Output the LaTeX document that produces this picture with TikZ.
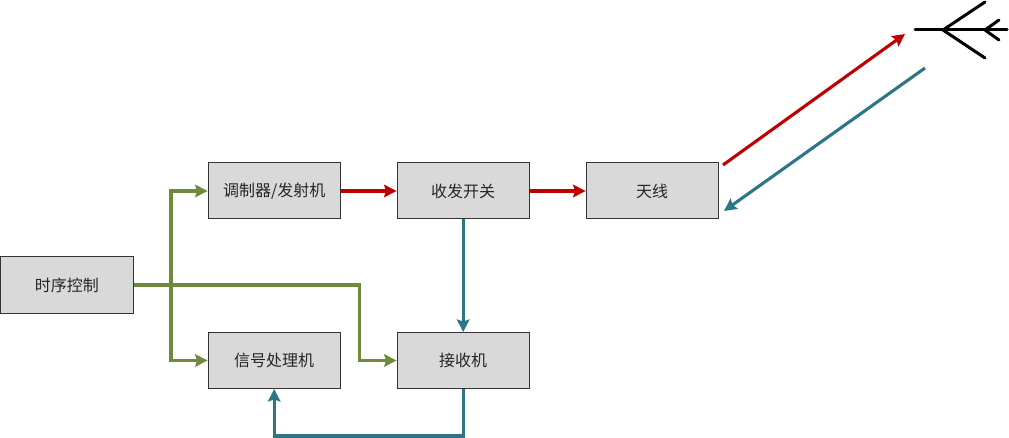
\documentclass[tikz,border=0pt]{standalone}
\usepackage{fontspec}
\setmainfont{Noto Sans CJK SC}
\usetikzlibrary{arrows.meta,calc}
\definecolor{boxfill}{HTML}{D9D9D9}
\definecolor{boxline}{HTML}{333333}
\definecolor{cgreen}{HTML}{6F8A3C}
\definecolor{cred}{HTML}{C00000}
\definecolor{cblue}{HTML}{2E7587}
\tikzset{
  blockbox/.style={draw=boxline,fill=boxfill,line width=1pt,minimum width=132.2pt,minimum height=56pt,inner sep=0pt,font=\fontsize{16pt}{18pt}\selectfont,text=black!85},
  conn/.style={line width=3.1pt,-{Stealth[length=12.5pt,width=12.5pt,inset=2pt]},line join=miter},
  gr/.style={conn,draw=cgreen},
  rd/.style={conn,draw=cred},
  bl/.style={conn,draw=cblue},
  ant/.style={line width=3pt,draw=black,line cap=round}
}
\begin{document}
\begin{tikzpicture}[x=1pt,y=-1pt]
\useasboundingbox (0,0) rectangle (1009,438);
\node[blockbox] (timing) at (66.9,285) {时序控制};
\node[blockbox] (mod) at (274.2,191) {调制器/发射机};
\node[blockbox] (sw) at (463.2,191) {收发开关};
\node[blockbox] (antbox) at (652.2,191) {天线};
\node[blockbox] (sig) at (274.2,360.5) {信号处理机};
\node[blockbox] (rx) at (463.2,360.5) {接收机};
% free ends
\coordinate (redS) at (723,165);
\coordinate (redE) at (905,34);
\coordinate (blueS) at (925,68);
\coordinate (blueE) at (724,211);
\coordinate (busT) at (171,285);
% green
\draw[gr] (timing.east) -- (359.5,285) |- (rx.west);
\draw[gr] (busT) |- (mod.west);
\draw[gr] (busT) |- (sig.west);
% red
\draw[rd] (mod.east) -- (sw.west);
\draw[rd] (sw.east) -- (antbox.west);
\draw[rd] (redS) -- (redE);
% blue
\draw[bl] (blueS) -- (blueE);
\draw[bl] (sw.south) -- (rx.north);
\draw[bl] (rx.south) -- (463.2,436) -| (sig.south);
% antenna
\coordinate (a0) at (915,30);
\coordinate (a1) at (1007,30);
\coordinate (a2) at (943,30);
\coordinate (a3) at (985,30);
\draw[ant] (a0) -- (a1);
\draw[ant] (985,2) -- (a2) -- (985,58);
\draw[ant] (999,20) -- (a3) -- (999,40);
\end{tikzpicture}
\end{document}
